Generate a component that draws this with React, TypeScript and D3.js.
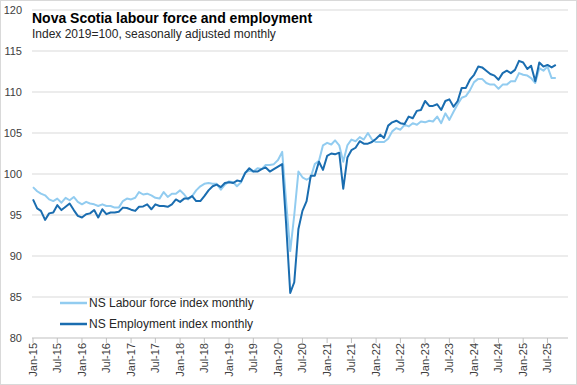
import { useMemo } from "react";
import { scaleLinear, scaleUtc, line, range, utcMonth, utcFormat } from "d3";

// Nova Scotia labour force & employment, index 2019=100, monthly Jan-2015 .. Sep-2025
const startMonth = Date.UTC(2015, 0, 1);
const axisEnd = Date.UTC(2025, 11, 1);

const labourForce = [
  98.4, 97.9, 97.6, 97.4, 96.9, 96.7, 97.0, 96.5, 97.1, 96.8, 97.2, 96.6,
  96.3, 96.6, 96.4, 96.3, 96.1, 96.3, 96.1, 96.1, 95.9, 95.9, 96.7, 97.0,
  96.9, 97.1, 97.8, 97.5, 97.6, 97.4, 97.1, 97.0, 97.8, 97.2, 97.6, 97.6,
  98.0, 97.5, 96.9, 97.3, 98.0, 98.5, 98.8, 98.9, 98.8, 98.8, 98.1, 98.7,
  99.1, 99.0, 98.5, 99.0, 100.2, 100.4, 100.3, 100.7, 100.6, 101.1, 101.1, 101.2,
  101.7, 102.7, 96.7, 90.6, 95.0, 100.3, 99.6, 99.3, 99.6, 101.2, 101.6, 103.5,
  103.8, 103.6, 104.1, 103.5, 101.5, 103.5, 104.2, 104.0, 104.5, 104.2, 105.0, 104.2,
  103.9, 103.9, 103.9, 104.3, 105.2, 105.6, 105.4, 106.0, 105.8, 106.2, 106.0, 106.4,
  106.3, 106.5, 106.4, 107.0, 106.2, 107.4, 106.6, 107.6, 108.5, 109.3, 109.5, 110.2,
  111.2, 111.6, 111.6, 111.1, 110.9, 110.9, 110.4, 110.9, 110.9, 111.3, 111.3, 112.3,
  112.1, 112.0, 111.7, 111.1, 112.9, 112.6, 113.1, 111.7, 111.7,
];

const employment = [
  96.9, 95.8, 95.5, 94.4, 95.2, 95.3, 96.2, 95.6, 96.0, 96.4, 95.6, 94.9,
  94.7, 95.1, 95.2, 95.6, 94.7, 95.7, 95.1, 95.3, 95.3, 95.4, 95.9, 95.85,
  95.65, 95.5, 96.0, 96.05, 96.3, 95.7, 96.3, 96.1, 96.1, 96.0, 96.3, 96.9,
  96.6, 97.0, 97.0, 97.3, 96.7, 96.7, 97.3, 98.0, 98.5, 98.7, 98.4, 98.9,
  99.0, 98.9, 99.2, 99.1, 100.1, 100.7, 100.3, 100.3, 100.6, 100.8, 100.3, 100.6,
  100.9, 101.2, 94.0, 85.5, 86.8, 93.3, 95.5, 96.7, 99.8, 99.8, 101.5, 100.5,
  102.2, 102.5, 102.4, 102.6, 98.2, 102.0, 102.9, 103.2, 104.0, 103.7, 103.7, 103.9,
  104.3, 104.8, 104.4, 105.9, 106.3, 106.5, 106.2, 106.1, 107.0, 106.8, 107.7, 107.8,
  108.9, 108.3, 108.3, 108.5, 107.8, 108.9, 109.1, 108.2, 108.9, 110.5, 110.5, 111.5,
  112.1, 113.1, 113.0, 112.6, 112.2, 112.0, 111.5, 112.3, 112.6, 112.3, 112.7, 113.8,
  113.6, 112.8, 113.2, 111.3, 113.6, 113.1, 113.3, 113.0, 113.3,
];

const yTicks = [80, 85, 90, 95, 100, 105, 110, 115, 120];

const seriesNames = ["NS Labour force index monthly", "NS Employment index monthly"];
const seriesColors = ["#92ccf0", "#1a6db0"];

const FONT = "'Liberation Sans', Arial, sans-serif";

export default function App() {
  const W = 577,
    H = 385;
  const x = scaleUtc().domain([new Date(startMonth), new Date(axisEnd)]).range([33, 568]);
  const y = scaleLinear().domain([80, 120]).range([338, 10]);

  const dates = useMemo(
    () => range(labourForce.length).map((i) => utcMonth.offset(new Date(startMonth), i)),
    []
  );
  const xTicks = x.ticks(utcMonth.every(6)!);
  const fmt = utcFormat("%b-%y");

  const path = line<number>()
    .x((_d, i) => x(dates[i]))
    .y((d) => y(d));

  const series = [labourForce, employment];

  return (
    <svg
      width={W}
      height={H}
      style={{ position: "absolute", left: 0, top: 0, background: "#fff" }}
      fontFamily={FONT}
    >
      <rect x={0.5} y={0.5} width={W - 1} height={H - 1} fill="#fff" stroke="#d9d9d9" />
      {yTicks.map((t) => (
        <g key={t}>
          <line x1={32} x2={568} y1={y(t)} y2={y(t)} stroke={t === 80 ? "#bfbfbf" : "#d9d9d9"} />
          <text x={22} y={y(t)} dy="0.35em" textAnchor="end" fontSize={11} fill="#404040">
            {t}
          </text>
        </g>
      ))}
      {xTicks.map((d) => (
        <g key={d.getTime()} transform={`translate(${x(d)},0)`}>
          <line y1={338} y2={343} stroke="#bfbfbf" />
          <text
            transform={`translate(0,343) rotate(-90)`}
            dy="0.35em"
            textAnchor="end"
            fontSize={11}
            fill="#404040"
          >
            {fmt(d)}
          </text>
        </g>
      ))}
      {series.map((s, k) => (
        <path
          key={k}
          d={path(s) || ""}
          fill="none"
          stroke={seriesColors[k]}
          strokeWidth={2}
          strokeLinejoin="round"
        />
      ))}
      <text x={32} y={23} fontSize={14} fontWeight="bold" fill="#000">
        Nova Scotia labour force and employment
      </text>
      <text x={32} y={37.5} fontSize={12} fill="#262626">
        Index 2019=100, seasonally adjusted monthly
      </text>
      {seriesNames.map((n, k) => (
        <g key={n} transform={`translate(0,${303 + k * 21})`}>
          <line x1={60} x2={87} y1={0} y2={0} stroke={seriesColors[k]} strokeWidth={2.5} />
          <text x={89} y={0} dy="0.35em" fontSize={12} fill="#262626">
            {n}
          </text>
        </g>
      ))}
    </svg>
  );
}
